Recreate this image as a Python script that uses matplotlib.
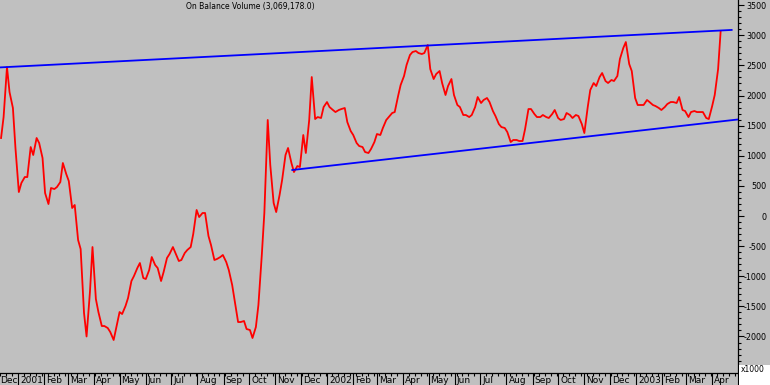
import numpy as np
import pandas as pd
import matplotlib
matplotlib.use('Agg')
import matplotlib.pyplot as plt
import matplotlib.dates as mdates
from matplotlib.ticker import MultipleLocator, NullFormatter, FuncFormatter
from matplotlib.transforms import blended_transform_factory, ScaledTranslation
from matplotlib.patches import Rectangle

plt.rcParams['font.family'] = ['Liberation Sans Narrow', 'DejaVu Sans']

# ---- data (OBV in thousands), sampled Tuesdays and Fridays ----
tue_dates = pd.date_range('2000-12-12', periods=122, freq='7D')
fri_dates = pd.date_range('2000-12-15', periods=122, freq='7D')
obv_dates = pd.DatetimeIndex(np.ravel(np.column_stack([tue_dates.values, fri_dates.values])))

obv_values = [
    1295, 1643, 2473, 2058, 1793, 1129, 398, 548, 647, 647,
    1145, 1013, 1295, 1212, 963, 382, 199, 465, 448, 481,
    564, 880, 697, 581, 133, 183, -398, -548, -1610, -2000,
    -1260, -515, -1378, -1594, -1826, -1826, -1859, -1926, -2058, -1859,
    -1594, -1627, -1494, -1361, -1079, -996, -863, -780, -1029, -1046,
    -896, -681, -813, -863, -1079, -930, -697, -631, -515, -614,
    -747, -730, -614, -564, -515, -299, 100, -17, 50, 50,
    -332, -481, -730, -714, -681, -647, -764, -896, -1145, -1411,
    -1760, -1760, -1743, -1876, -1892, -2025, -1843, -1477, -647, 50,
    1594, 847, 216, 66, 349, 598, 1013, 1129, 880, 730,
    830, 813, 1345, 1046, 1594, 2307, 1610, 1643, 1627, 1809,
    1892, 1809, 1760, 1726, 1760, 1776, 1793, 1560, 1411, 1345,
    1212, 1162, 1145, 1062, 1046, 1112, 1228, 1361, 1345, 1461,
    1594, 1643, 1710, 1726, 1992, 2175, 2324, 2507, 2673, 2722,
    2739, 2706, 2689, 2706, 2839, 2440, 2274, 2357, 2407, 2208,
    2009, 2158, 2274, 2009, 1843, 1809, 1677, 1677, 1643, 1677,
    1809, 1975, 1876, 1926, 1959, 1892, 1743, 1660, 1527, 1477,
    1461, 1394, 1228, 1262, 1262, 1245, 1245, 1444, 1776, 1776,
    1693, 1643, 1643, 1677, 1643, 1627, 1693, 1760, 1627, 1594,
    1610, 1710, 1677, 1627, 1677, 1660, 1527, 1378, 1809, 2092,
    2208, 2158, 2307, 2374, 2241, 2208, 2258, 2241, 2324, 2606,
    2789, 2888, 2523, 2407, 1959, 1843, 1843, 1843, 1926, 1892,
    1843, 1826, 1793, 1760, 1809, 1859, 1892, 1892, 1876, 1975,
    1760, 1743, 1643, 1726, 1743, 1726, 1726, 1726, 1627, 1610,
    1826, 2009, 2440, 3069,
]

upper_dates = pd.to_datetime(['2000-12-10 18:00', '2003-04-24 00:00'])
upper_values = [2467, 3089]
lower_dates = pd.to_datetime(['2001-11-21 00:00', '2003-05-01 00:00'])
lower_values = [764, 1602]

title_text = 'On Balance Volume (3,069,178.0)'
month_names = ['2001', 'Feb', 'Mar', 'Apr', 'May', 'Jun', 'Jul', 'Aug', 'Sep', 'Oct', 'Nov', 'Dec']

# ---- figure ----
W, H = 770, 385
BG = '#C0C0C0'
fig = plt.figure(figsize=(W / 100, H / 100), dpi=100, facecolor=BG)
ax = fig.add_axes([0, 12 / H, 738 / W, 373 / H], facecolor=BG)

ax.plot(obv_dates, obv_values, color='#FF0000', lw=1.3, zorder=3)
ax.plot(upper_dates, upper_values, color='#0000FF', lw=1.3, zorder=4)
ax.plot(lower_dates, lower_values, color='#0000FF', lw=1.3, zorder=4)

ax.set_xlim(pd.Timestamp('2000-12-10 18:00'), pd.Timestamp('2003-05-01 12:00'))
ax.set_ylim(-2606, 3586)

for s in ['left', 'top']:
    ax.spines[s].set_visible(False)
for s in ['right', 'bottom']:
    ax.spines[s].set_color('black')
    ax.spines[s].set_linewidth(0.9)

# y axis on the right, labels right-aligned near the figure edge
ax.yaxis.tick_right()
ax.yaxis.set_major_locator(MultipleLocator(500))
ax.yaxis.set_minor_locator(MultipleLocator(100))
ax.yaxis.set_major_formatter(FuncFormatter(lambda v, p: '%d' % v if -2000 <= v <= 3500 else ''))
ax.tick_params(axis='y', which='major', length=4, width=0.8, pad=16.5,
               labelsize=5.8, colors='black', direction='out')
ax.tick_params(axis='y', which='minor', length=2, width=0.8, direction='out')

# x axis: months (long ticks) and weeks (short ticks)
ax.xaxis.set_major_locator(mdates.MonthLocator())
ax.xaxis.set_minor_locator(mdates.WeekdayLocator(byweekday=mdates.MO))
ax.xaxis.set_major_formatter(NullFormatter())
ax.tick_params(axis='x', which='major', length=9, width=0.8, direction='out')
ax.tick_params(axis='x', which='minor', length=2, width=0.8, direction='out')

trans = blended_transform_factory(ax.transData, ax.transAxes) + \
    ScaledTranslation(2 / 100, -7.5 / 100, fig.dpi_scale_trans)
trans0 = blended_transform_factory(ax.transAxes, ax.transAxes) + \
    ScaledTranslation(0, -7.5 / 100, fig.dpi_scale_trans)
lo, hi = ax.get_xlim()
for d in pd.date_range('2000-12-01', '2003-05-01', freq='MS'):
    lab = str(d.year) if d.month == 1 else month_names[d.month - 1]
    dn = mdates.date2num(d)
    if dn < lo:
        ax.text(0, 0, lab, transform=trans0, ha='left', va='center',
                fontsize=6.5, color='black', clip_on=False)
    elif dn <= hi - 5:
        ax.text(d, 0, lab, transform=trans, ha='left', va='center',
                fontsize=6.5, color='black', clip_on=False)

fig.text(250 / W, 1 - 7 / H, title_text, ha='center', va='center', fontsize=5.5, color='black')

fig.add_artist(Rectangle((739 / W, 0), 31 / W, 20 / H, transform=fig.transFigure,
                         facecolor='white', edgecolor='none', zorder=5))
fig.text(741 / W, 1 - 369 / H, 'x1000', ha='left', va='center', fontsize=5.5,
         color='black', zorder=6)

fig.canvas.draw()
for t in ax.yaxis.get_major_ticks():
    t.label2.set_horizontalalignment('right')

fig.savefig('out.png', dpi=100, facecolor=BG)
